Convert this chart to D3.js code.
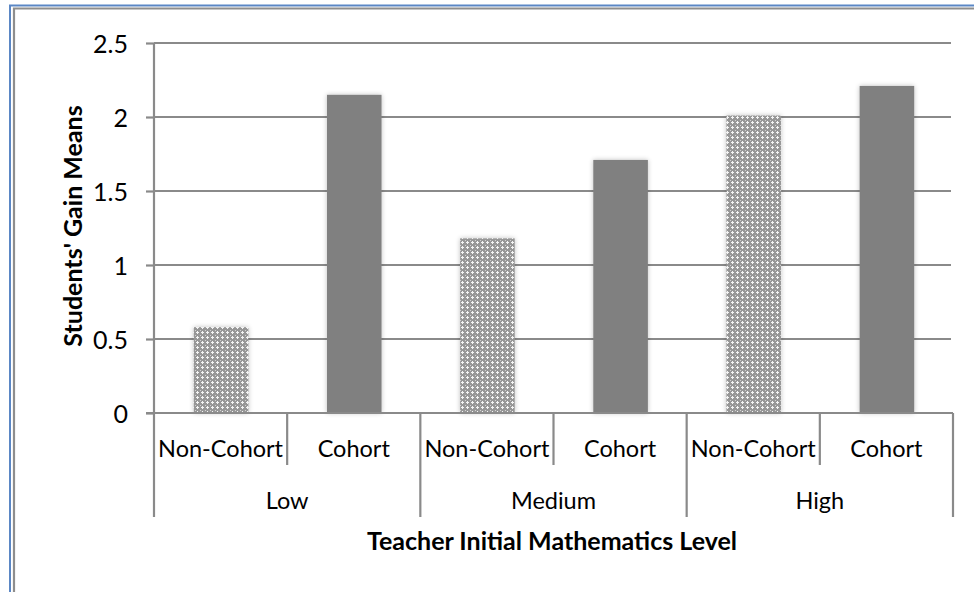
<!DOCTYPE html>
<html><head><meta charset="utf-8">
<script src="https://cdn.jsdelivr.net/npm/d3@7"></script>
<style>
html,body{margin:0;padding:0;background:#fff;}
svg{display:block;}
text{font-family:Lato,"Open Sans",sans-serif;fill:#000;}
</style></head>
<body>
<script>
const groups = ["Low", "Medium", "High"];
const subgroups = ["Non-Cohort", "Cohort"];
const values = [
  [0.58, 2.15],
  [1.18, 1.71],
  [2.01, 2.21]
];
const yTicks = [0, 0.5, 1, 1.5, 2, 2.5];
const yTickLabels = ["0", "0.5", "1", "1.5", "2", "2.5"];
const yTitle = "Students' Gain Means";
const xTitle = "Teacher Initial Mathematics Level";

const W = 974, H = 592;
const svg = d3.select("body").append("svg").attr("width", W).attr("height", H);

const defs = svg.append("defs");
const pat = defs.append("pattern").attr("id","dots").attr("patternUnits","userSpaceOnUse")
  .attr("width",5).attr("height",5);
pat.append("rect").attr("width",5).attr("height",5).attr("fill","#979797");
pat.append("rect").attr("x",2).attr("y",1).attr("width",1).attr("height",3).attr("fill","#f4f4f4");
pat.append("rect").attr("x",1).attr("y",2).attr("width",3).attr("height",1).attr("fill","#f4f4f4");
pat.append("rect").attr("x",0).attr("y",0).attr("width",1).attr("height",1).attr("fill","#d0d0d0");
const f = defs.append("filter").attr("id","sh").attr("x","-20%").attr("y","-20%").attr("width","140%").attr("height","140%");
f.append("feGaussianBlur").attr("in","SourceAlpha").attr("stdDeviation",2.5).attr("result","b");
f.append("feComponentTransfer").attr("in","b").attr("result","b2").append("feFuncA").attr("type","linear").attr("slope",0.25);
const m = f.append("feMerge"); m.append("feMergeNode").attr("in","b2"); m.append("feMergeNode").attr("in","SourceGraphic");

// border
svg.append("path").attr("d",`M10,${H+5}V5.5H${W+5}`).attr("fill","none").attr("stroke","#5b87c5").attr("stroke-width",2);
svg.append("path").attr("d",`M14,${H+5}V8.5H${W+5}`).attr("fill","none").attr("stroke","#8e8e8e").attr("stroke-width",2.2);

const x0 = 154, x1 = 953, yBase = 413, yTop = 43;
const y = d3.scaleLinear().domain([0, 2.5]).range([yBase, yTop]);
const flat = [];
groups.forEach((g,i)=>subgroups.forEach((s,j)=>flat.push({g, s, key:g+"|"+s, v:values[i][j], j})));
const xs = d3.scaleBand().domain(flat.map(d=>d.key)).range([x0, x1]).paddingInner(0).paddingOuter(0);
const xg = d3.scaleBand().domain(groups).range([x0, x1]);

const axisCol = "#8a8a8a";
// gridlines
svg.append("g").selectAll("line").data(yTicks.slice(1)).join("line")
  .attr("x1", x0).attr("x2", 951).attr("y1", d=>y(d)).attr("y2", d=>y(d))
  .attr("stroke", axisCol).attr("stroke-width", 2.2);

// y axis
const yAxis = svg.append("g").attr("transform",`translate(${x0},0)`)
  .call(d3.axisLeft(y).tickValues(yTicks).tickFormat((d,i)=>yTickLabels[i]).tickSize(8).tickPadding(18));
yAxis.select(".domain").remove();
yAxis.selectAll(".tick line").attr("stroke", axisCol).attr("stroke-width",2.2);
yAxis.selectAll(".tick text").style("font-size","25px").attr("dy","0.36em");

// bars
const bw = xs.bandwidth()*0.41;
svg.append("g").selectAll("rect").data(flat).join("rect")
  .attr("x", d=>xs(d.key)+xs.bandwidth()/2-bw/2+0.5)
  .attr("y", d=>y(d.v)).attr("width", bw).attr("height", d=>yBase-y(d.v))
  .attr("fill", d=>d.j===0 ? "url(#dots)" : "#808080")
  .attr("filter","url(#sh)");

// x baseline and left axis
svg.append("line").attr("x1", x0-8).attr("x2", x1).attr("y1", yBase).attr("y2", yBase).attr("stroke", axisCol).attr("stroke-width",2.2);
svg.append("line").attr("x1", x0).attr("x2", x0).attr("y1", yTop).attr("y2", 517).attr("stroke", axisCol).attr("stroke-width",2.2);

// category dividers
const inner = flat.map(d=>xs(d.key)).filter((d,i)=>i%2===1);
svg.append("g").selectAll("line").data(inner).join("line")
  .attr("x1",d=>d).attr("x2",d=>d).attr("y1",yBase).attr("y2",465).attr("stroke",axisCol).attr("stroke-width",2.2);
const outer = groups.map(g=>xg(g)+xg.bandwidth());
svg.append("g").selectAll("line").data(outer).join("line")
  .attr("x1",d=>d).attr("x2",d=>d).attr("y1",yBase).attr("y2",517).attr("stroke",axisCol).attr("stroke-width",2.2);

// sub labels
svg.append("g").selectAll("text").data(flat).join("text")
  .attr("x", d=>xs(d.key)+xs.bandwidth()/2).attr("y", 457)
  .attr("text-anchor","middle").style("font-size","23.5px").text(d=>d.s);
svg.append("g").selectAll("text").data(groups).join("text")
  .attr("x", d=>xg(d)+xg.bandwidth()/2).attr("y", 509)
  .attr("text-anchor","middle").style("font-size","23.5px").text(d=>d);

// titles
svg.append("text").attr("x", 552).attr("y", 550).attr("text-anchor","middle")
  .style("font-size","25px").style("font-weight","bold").text(xTitle);
svg.append("text").attr("transform","translate(82,226) rotate(-90)").attr("text-anchor","middle")
  .style("font-size","25px").style("font-weight","bold").text(yTitle);
</script>
</body></html>
